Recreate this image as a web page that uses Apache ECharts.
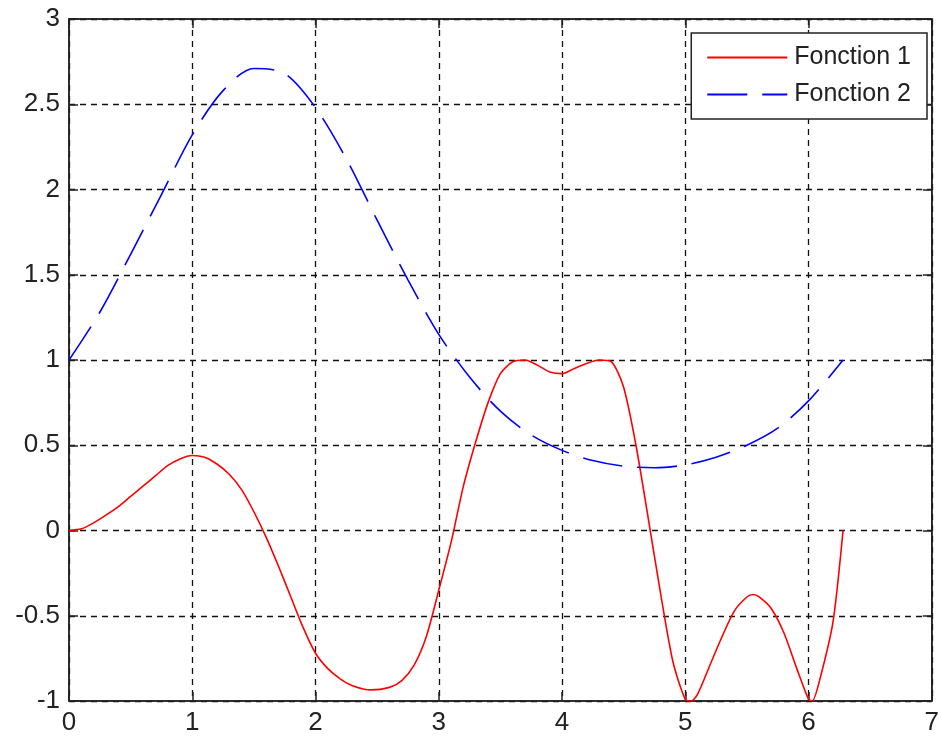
<!DOCTYPE html>
<html>
<head>
<meta charset="utf-8">
<script src="https://cdn.jsdelivr.net/npm/echarts@6/dist/echarts.min.js"></script>
<style>
html,body{margin:0;padding:0;background:#fff;}
#chart{width:942px;height:736px;}
</style>
</head>
<body>
<div id="chart"></div>
<script>
// ---- data ----
var seriesNames = ['Fonction 1', 'Fonction 2'];
var xTicks = [0, 1, 2, 3, 4, 5, 6, 7];
var yTicks = [-1, -0.5, 0, 0.5, 1, 1.5, 2, 2.5, 3];

var f1X = [0, 0.1, 0.2, 0.3, 0.4, 0.5, 0.6, 0.7, 0.8, 0.9, 1.0, 1.1, 1.2, 1.3, 1.4, 1.5, 1.6, 1.7, 1.8, 1.9, 2.0, 2.1, 2.2, 2.3, 2.45, 2.6, 2.7, 2.8, 2.9, 3.0, 3.1, 3.2, 3.3, 3.4, 3.5, 3.6, 3.7, 3.8, 3.9, 4.0, 4.1, 4.2, 4.3, 4.4, 4.5, 4.6, 4.7, 4.8, 4.9, 5.0, 5.05, 5.1, 5.2, 5.3, 5.4, 5.5, 5.55, 5.6, 5.7, 5.8, 5.9, 6.0, 6.03, 6.1, 6.2, 6.28];
var f1Y = [0, 0.01, 0.045, 0.09, 0.14, 0.2, 0.26, 0.32, 0.38, 0.42, 0.44, 0.43, 0.39, 0.33, 0.24, 0.11, -0.04, -0.21, -0.39, -0.57, -0.72, -0.81, -0.87, -0.91, -0.935, -0.92, -0.88, -0.79, -0.62, -0.35, -0.07, 0.26, 0.52, 0.75, 0.92, 0.99, 1.0, 0.97, 0.93, 0.92, 0.95, 0.98, 1.0, 0.99, 0.84, 0.5, 0.07, -0.37, -0.77, -0.99, -1.0, -0.96, -0.79, -0.62, -0.47, -0.39, -0.375, -0.39, -0.46, -0.6, -0.8, -0.99, -1.0, -0.85, -0.53, 0];

var f2X = [0, 0.25, 0.5, 0.75, 1.0, 1.25, 1.5, 1.75, 2.0, 2.25, 2.5, 2.75, 3.0, 3.25, 3.5, 3.75, 4.0, 4.25, 4.5, 4.75, 5.0, 5.25, 5.5, 5.75, 6.0, 6.28];
var f2Y = [1.0, 1.28, 1.62, 1.97, 2.32, 2.58, 2.71, 2.68, 2.48, 2.18, 1.82, 1.47, 1.15, 0.9, 0.7, 0.56, 0.47, 0.41, 0.377, 0.368, 0.385, 0.43, 0.5, 0.6, 0.76, 1.0];

function pairs(xs, ys) { return xs.map(function (x, i) { return [x, ys[i]]; }); }

var FONT = '"Liberation Sans", Arial, sans-serif';
var chart = echarts.init(document.getElementById('chart'), null, { renderer: 'canvas' });

var gridDash = { color: '#111', width: 1.3, type: [6, 5] };
var tickStyle = { color: '#222', width: 1.5 };

chart.setOption({
  animation: false,
  backgroundColor: '#fff',
  grid: {
    left: 69, right: 6, top: 19, bottom: 32,
    show: true, borderColor: '#222', borderWidth: 1.5, backgroundColor: '#fff'
  },
  legend: {
    orient: 'vertical',
    right: 15, top: 33,
    padding: [12, 16, 12, 15],
    itemGap: 12,
    itemWidth: 80, itemHeight: 14,
    backgroundColor: '#fff',
    borderColor: '#222', borderWidth: 1.5, borderRadius: 0,
    itemStyle: { opacity: 0 },
    textStyle: { fontFamily: FONT, fontSize: 25, color: '#222', lineHeight: 25, padding: [0, 0, 0, 2] },
    data: seriesNames
  },
  xAxis: [{
    type: 'value', min: xTicks[0], max: xTicks[xTicks.length - 1], interval: 1,
    axisLine: { show: true, onZero: false, lineStyle: tickStyle },
    axisTick: { show: true, inside: true, length: 9, lineStyle: tickStyle },
    axisLabel: { fontFamily: FONT, fontSize: 26, color: '#222', margin: 9 },
    splitLine: { show: true, lineStyle: gridDash }
  }, {
    type: 'value', position: 'top', min: xTicks[0], max: xTicks[xTicks.length - 1], interval: 1,
    axisLine: { show: true, onZero: false, lineStyle: tickStyle },
    axisTick: { show: true, inside: true, length: 9, lineStyle: tickStyle },
    axisLabel: { show: false }, splitLine: { show: false }
  }],
  yAxis: [{
    type: 'value', min: yTicks[0], max: yTicks[yTicks.length - 1], interval: 0.5,
    axisLine: { show: true, onZero: false, lineStyle: tickStyle },
    axisTick: { show: true, inside: true, length: 9, lineStyle: tickStyle },
    axisLabel: { fontFamily: FONT, fontSize: 26, color: '#222', margin: 9 },
    splitLine: { show: true, lineStyle: gridDash }
  }, {
    type: 'value', position: 'right', min: yTicks[0], max: yTicks[yTicks.length - 1], interval: 0.5,
    axisLine: { show: true, onZero: false, lineStyle: tickStyle },
    axisTick: { show: true, inside: true, length: 9, lineStyle: tickStyle },
    axisLabel: { show: false }, splitLine: { show: false }
  }],
  series: [{
    name: seriesNames[0], type: 'line', data: pairs(f1X, f1Y),
    showSymbol: false, symbol: 'none', smooth: 0.25,
    lineStyle: { color: '#ff0000', width: 1.6 },
    itemStyle: { color: '#ff0000' }
  }, {
    name: seriesNames[1], type: 'line', data: pairs(f2X, f2Y),
    showSymbol: false, symbol: 'none', smooth: 0.3,
    lineStyle: { color: '#0000ff', width: 1.6, type: [40, 15] },
    itemStyle: { color: '#0000ff' }
  }]
});
</script>
</body>
</html>
